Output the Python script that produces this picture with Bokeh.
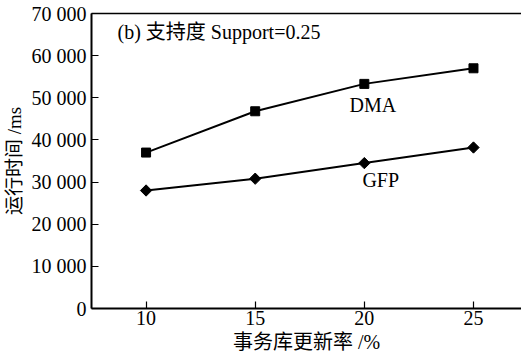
import math
from bokeh.plotting import figure
from bokeh.models import Range1d, LinearAxis, FixedTicker, CustomJSTickFormatter, Label
from bokeh.embed import file_html
from bokeh.resources import INLINE

rates = [10, 15, 20, 25]
dma = [37000, 46800, 53300, 57000]
gfp = [28000, 30800, 34500, 38200]
y_ticks = [0, 10000, 20000, 30000, 40000, 50000, 60000, 70000]
x_ticks = [10, 15, 20, 25]
title_text = "(b) 支持度 Support=0.25"
x_title = "事务库更新率 /%"
y_title = "运行时间 /ms"

FONT = "'Liberation Serif', 'Noto Sans CJK SC'"

p = figure(width=521, height=350, output_backend="svg", toolbar_location=None,
           x_range=Range1d(7.5, 27.2), y_range=Range1d(0, 70000),
           frame_width=430, frame_height=295,
           min_border_left=91, min_border_top=13, min_border_right=0, min_border_bottom=40)
p.outline_line_color = None
p.grid.visible = False
p.background_fill_color = "white"
p.border_fill_color = "white"

for ax in (p.xaxis[0], p.yaxis[0]):
    ax.axis_line_color = "black"
    ax.axis_line_width = 2
    ax.major_tick_in = 7
    ax.major_tick_out = 0
    ax.minor_tick_in = 0
    ax.minor_tick_out = 0
    ax.major_tick_line_color = "black"
    ax.major_tick_line_width = 1.2
    ax.major_label_text_font = FONT
    ax.major_label_text_font_size = "20px"
    ax.major_label_text_color = "black"
    ax.axis_label_text_font = FONT
    ax.axis_label_text_font_style = "normal"
    ax.axis_label_text_color = "black"

p.xaxis[0].ticker = FixedTicker(ticks=x_ticks)
p.yaxis[0].ticker = FixedTicker(ticks=y_ticks)
p.yaxis[0].formatter = CustomJSTickFormatter(code="""
    const s = Math.round(tick).toString();
    return s.replace(/\\B(?=(\\d{3})+(?!\\d))/g, ' ');
""")
p.xaxis[0].major_label_standoff = 2
p.yaxis[0].major_label_standoff = 5
p.xaxis[0].axis_label = x_title
p.xaxis[0].axis_label_text_font_size = "20px"
p.xaxis[0].axis_label_standoff = 3
p.yaxis[0].axis_label = y_title
p.yaxis[0].axis_label_text_font_size = "19px"
p.yaxis[0].axis_label_standoff = 4

top = LinearAxis(ticker=FixedTicker(ticks=[]), major_label_text_font_size="0px",
                 axis_line_color="black", axis_line_width=1.3,
                 major_tick_in=0, major_tick_out=0, minor_tick_in=0, minor_tick_out=0)
p.add_layout(top, "above")

p.line(rates, dma, line_color="black", line_width=2)
p.scatter(rates, dma, marker="square", size=9, fill_color="black", line_color="black")
p.line(rates, gfp, line_color="black", line_width=2)
p.scatter(rates, gfp, marker="square", size=8, angle=math.pi / 4,
          fill_color="black", line_color="black")

p.add_layout(Label(x=8.69, y=65700, text=title_text, text_font=FONT, text_font_size="20px",
                   text_color="black", text_baseline="middle"))
p.add_layout(Label(x=19.32, y=48300, text="DMA", text_font=FONT, text_font_size="20px",
                   text_color="black", text_baseline="middle"))
p.add_layout(Label(x=19.91, y=30400, text="GFP", text_font=FONT, text_font_size="20px",
                   text_color="black", text_baseline="middle"))

open("out.html", "w").write(file_html(p, INLINE))
